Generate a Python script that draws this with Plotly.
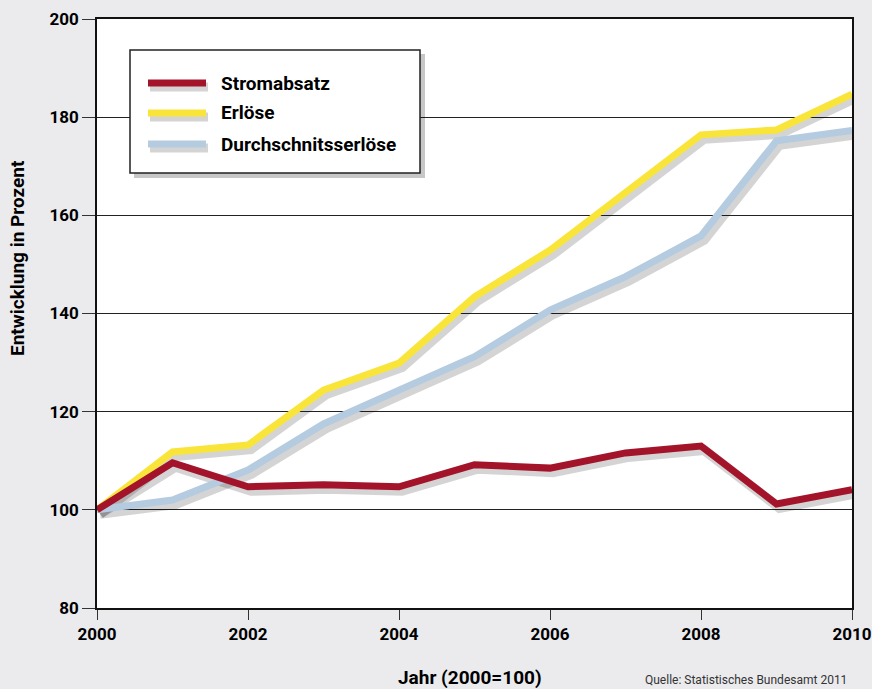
import plotly.graph_objects as go

years = list(range(2000, 2011))
stromabsatz = [100, 109.6, 104.7, 105.1, 104.7, 109.2, 108.5, 111.6, 113.0, 101.2, 104.1]
erloese = [100, 111.8, 113.2, 124.4, 129.9, 143.4, 152.9, 164.6, 176.4, 177.4, 184.7]
durchschnitt = [100, 102.0, 108.1, 117.5, 124.4, 131.2, 140.7, 147.5, 155.8, 175.2, 177.3]
series_names = ["Stromabsatz", "Erlöse", "Durchschnitsserlöse"]
colors = ["#a3142a", "#f9e53a", "#b4cbe0"]
y_ticks = [80, 100, 120, 140, 160, 180, 200]
x_ticks = [2000, 2002, 2004, 2006, 2008, 2010]

W, H = 872, 689
L, R, T, B = 97, 20, 19, 81
pw, ph = W - L - R, H - T - B
FONT = "Roboto, Lato, sans-serif"

def px(x):
    return (x - L) / pw

def py(y):
    return (H - B - y) / ph

fig = go.Figure()
# shadows
dx = 3 * 10 / pw
dy = -4 * 120 / ph
for vals in [durchschnitt, erloese, stromabsatz]:
    fig.add_trace(go.Scatter(x=[v + dx for v in years], y=[v + dy for v in vals], mode="lines",
                             line=dict(color="rgba(0,0,0,0.17)", width=10), hoverinfo="skip",
                             showlegend=False))
for vals, name, c in [(durchschnitt, series_names[2], colors[2]), (erloese, series_names[1], colors[1]),
                      (stromabsatz, series_names[0], colors[0])]:
    fig.add_trace(go.Scatter(x=years, y=vals, mode="lines", name=name,
                             line=dict(color=c, width=7), showlegend=False))

fig.update_xaxes(range=[2000, 2010], tickvals=x_ticks, ticktext=[str(v) for v in x_ticks],
                 showgrid=False, showline=True, linecolor="#111", linewidth=1.5, mirror=True,
                 ticks="outside", ticklen=10, tickcolor="#333", tickwidth=1.2, ticklabeloverflow="allow",
                 automargin=False,
                 tickfont=dict(family=FONT, size=17, color="black", weight="bold"), zeroline=False)
fig.update_yaxes(range=[80, 200], tickvals=y_ticks, showgrid=True, gridcolor="#222", gridwidth=1.3,
                 showline=True, linecolor="#111", linewidth=1.5, mirror=True, automargin=False,
                 ticks="outside", ticklen=13, tickcolor="#333", tickwidth=1.2,
                 tickfont=dict(family=FONT, size=17, color="black", weight="bold"), zeroline=False)

shapes = []
annotations = []
# legend box with shadow
shapes.append(dict(type="rect", xref="paper", yref="paper", x0=px(134), x1=px(425), y0=py(178), y1=py(54),
                   fillcolor="rgba(0,0,0,0.22)", line=dict(width=0), layer="above"))
shapes.append(dict(type="rect", xref="paper", yref="paper", x0=px(130), x1=px(420), y0=py(173), y1=py(50),
                   fillcolor="white", line=dict(color="#222", width=1.5), layer="above"))
for i, (name, c) in enumerate(zip(series_names, colors)):
    yy = [83, 113, 144][i]
    shapes.append(dict(type="line", xref="paper", yref="paper", x0=px(150), x1=px(208), y0=py(yy + 4), y1=py(yy + 4),
                       line=dict(color="rgba(0,0,0,0.17)", width=9), layer="above"))
    shapes.append(dict(type="line", xref="paper", yref="paper", x0=px(148), x1=px(206), y0=py(yy), y1=py(yy),
                       line=dict(color=c, width=7), layer="above"))
    annotations.append(dict(xref="paper", yref="paper", x=px(219), y=py(yy), text=name, showarrow=False,
                            xanchor="left", yanchor="middle",
                            font=dict(family=FONT, size=19, color="black", weight="bold")))

annotations.append(dict(xref="paper", yref="paper", x=px(17), y=py(258), text="Entwicklung in Prozent",
                        textangle=-90, showarrow=False, xanchor="center", yanchor="middle",
                        font=dict(family=FONT, size=19, color="black", weight="bold")))
annotations.append(dict(xref="paper", yref="paper", x=px(470), y=py(677), text="Jahr (2000=100)",
                        showarrow=False, xanchor="center", yanchor="middle",
                        font=dict(family=FONT, size=19, color="black", weight="bold")))
annotations.append(dict(xref="paper", yref="paper", x=px(643), y=py(689), text="Quelle: Statistisches Bundesamt 2011",
                        showarrow=False, xanchor="left", yanchor="bottom",
                        font=dict(family=FONT, size=12, color="#333")))

fig.update_layout(width=W, height=H, margin=dict(l=L, r=R, t=T, b=B),
                  paper_bgcolor="#ebebee", plot_bgcolor="white", shapes=shapes, annotations=annotations,
                  showlegend=False, font=dict(family=FONT))
fig.write_html("out.html")
